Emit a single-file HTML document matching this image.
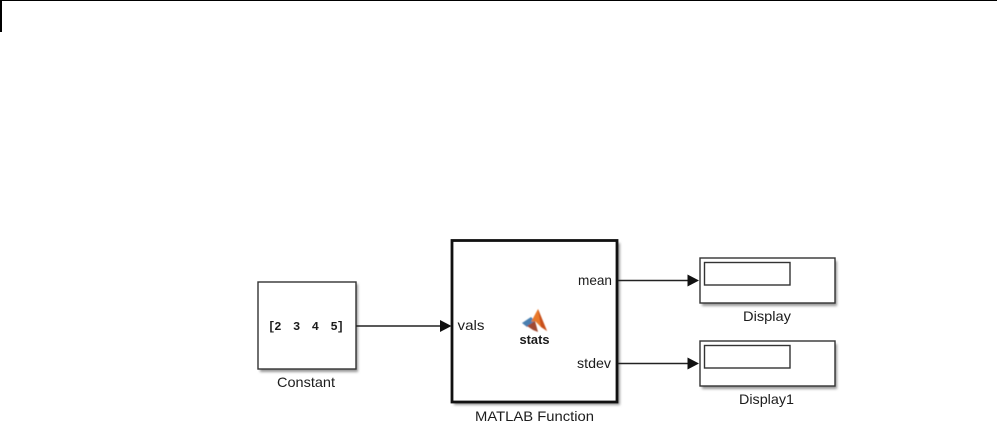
<!DOCTYPE html>
<html>
<head>
<meta charset="utf-8">
<style>
html,body{margin:0;padding:0;background:#fff;width:997px;height:445px;overflow:hidden}
svg{display:block}
text{font-family:"Liberation Sans",sans-serif;font-size:14px;fill:#1c1c1c}
</style>
</head>
<body>
<svg width="997" height="445" viewBox="0 0 997 445" xmlns="http://www.w3.org/2000/svg">
<defs>
<filter id="b" x="-10%" y="-10%" width="120%" height="120%"><feGaussianBlur stdDeviation="1.2"/></filter>
<filter id="s" x="-50%" y="-50%" width="200%" height="200%"><feGaussianBlur stdDeviation="0.5"/></filter>
<filter id="t" x="-5%" y="-20%" width="110%" height="140%"><feGaussianBlur stdDeviation="0.3"/></filter>
</defs>
<!-- top frame -->
<rect x="0" y="0" width="997" height="1" fill="#000"/>
<rect x="0" y="0" width="2" height="32" fill="#000"/>

<!-- shadows -->
<g fill="#999" filter="url(#b)">
<rect x="260" y="284" width="98" height="88"/>
<rect x="454" y="243" width="166" height="162"/>
<rect x="702" y="261" width="135" height="45"/>
<rect x="702" y="344" width="135" height="45"/>
</g>

<!-- Constant -->
<rect x="258" y="282" width="98" height="87" fill="#fff" stroke="#333" stroke-width="1.400"/>
<g filter="url(#t)">
<text x="268" y="330" textLength="76" lengthAdjust="spacing" style="font-family:'Liberation Mono',monospace;font-size:12px;font-weight:bold" fill="#222" xml:space="preserve">[2  3  4  5]</text>
<text x="277" y="387" textLength="58" lengthAdjust="spacingAndGlyphs">Constant</text>
</g>

<!-- MATLAB Function -->
<rect x="452" y="240.500" width="165" height="161.500" fill="#fff" stroke="#111" stroke-width="2.800"/>
<g filter="url(#t)">
<text x="457.500" y="330" textLength="27" lengthAdjust="spacingAndGlyphs">vals</text>
<text x="578" y="285" textLength="34" lengthAdjust="spacingAndGlyphs">mean</text>
<text x="577" y="368" textLength="34" lengthAdjust="spacingAndGlyphs">stdev</text>
<text x="519.500" y="344" textLength="30" lengthAdjust="spacingAndGlyphs" style="font-size:13px;font-weight:bold">stats</text>
</g>
<g filter="url(#s)">
<path d="M522 323 L531 317 L535 321 L527 327 Z" fill="#4a7fb0"/>
<path d="M531 322 L538 309 L547 331 L541 327 L535 321 Z" fill="#e8782a"/>
<path d="M538 309 L541 327 L547 331 Z" fill="#c8501e"/>
<path d="M527 326 L535 321 L538 332 L533 330 Z" fill="#a04a30"/>
</g>
<text x="475" y="421" textLength="119" lengthAdjust="spacingAndGlyphs" filter="url(#t)">MATLAB Function</text>

<!-- Displays -->
<rect x="700" y="258" width="135" height="45" fill="#fff" stroke="#333" stroke-width="1.400"/>
<rect x="704.500" y="262.500" width="85.500" height="22.500" fill="#fff" stroke="#333" stroke-width="1.400"/>
<text x="743" y="321" textLength="48" lengthAdjust="spacingAndGlyphs" filter="url(#t)">Display</text>

<rect x="700" y="341" width="135" height="45" fill="#fff" stroke="#333" stroke-width="1.400"/>
<rect x="704.500" y="345.500" width="85.500" height="22.500" fill="#fff" stroke="#333" stroke-width="1.400"/>
<text x="739" y="404" textLength="55" lengthAdjust="spacingAndGlyphs" filter="url(#t)">Display1</text>

<!-- connectors -->
<g stroke="#222" stroke-width="1.400">
<line x1="356" y1="326" x2="442" y2="326"/>
<line x1="618" y1="280.500" x2="690" y2="280.500"/>
<line x1="618" y1="363.500" x2="690" y2="363.500"/>
</g>
<g fill="#111">
<path d="M440 320 L451.500 326 L440 332 Z"/>
<path d="M687.500 274.500 L699 280.500 L687.500 286.500 Z"/>
<path d="M687.500 357.500 L699 363.500 L687.500 369.500 Z"/>
</g>
</svg>
</body>
</html>
